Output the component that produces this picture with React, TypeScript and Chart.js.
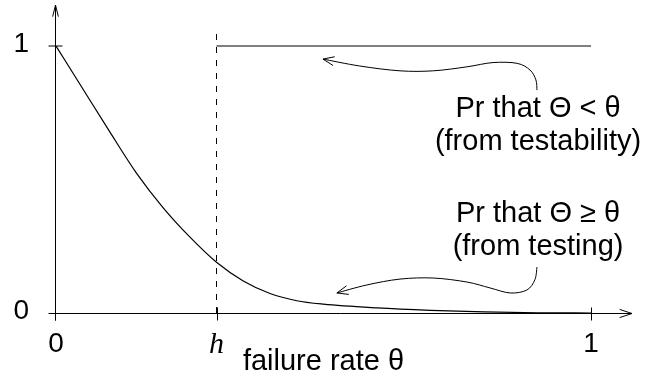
import React, { useEffect, useRef } from 'react';
import { Chart, registerables } from 'chart.js';

Chart.register(...registerables);

// ---------- data ----------
const H = 0.3;
const thetaValues = [0, 0.05, 0.1, 0.15, 0.2, 0.25, 0.3, 0.35, 0.4, 0.45, 0.5, 0.6, 0.7, 0.8, 0.9, 1];
const testingValues = [1, 0.84, 0.68, 0.525, 0.395, 0.285, 0.19, 0.12, 0.073, 0.046, 0.033, 0.019, 0.01, 0.004, 0.001, 0];
const testabilityTheta = [H, 1];
const testabilityValues = [1, 1];
const hLineTheta = [H, H];
const hLineValues = [0, 1.05];

const xTickValues = [0, H, 1];
const xTickLabels = ['0', 'h', '1'];
const yTickValues = [0, 1];
const yTickLabels = ['0', '1'];
const xAxisTitle = 'failure rate θ';

const testabilityLabel = ['Pr that Θ < θ', '(from testability)'];
const testingLabel = ['Pr that Θ ≥ θ', '(from testing)'];

// annotation arrows (data units), from label to tip
const testabilityArrowX = [0.899, 0.897, 0.886, 0.862, 0.817, 0.768, 0.705, 0.643, 0.568, 0.499];
const testabilityArrowY = [0.835, 0.873, 0.91, 0.935, 0.938, 0.922, 0.907, 0.907, 0.925, 0.951];
const testingArrowX = [0.899, 0.895, 0.88, 0.849, 0.811, 0.768, 0.705, 0.643, 0.581, 0.525];
const testingArrowY = [0.172, 0.124, 0.086, 0.075, 0.094, 0.116, 0.131, 0.127, 0.105, 0.075];

// label anchors (data units): centre x, baselines of the two lines
const testabilityLabelX = 0.901;
const testabilityLabelY = [0.734, 0.61];
const testingLabelX = 0.901;
const testingLabelY = [0.341, 0.217];

const SANS = '"Liberation Sans", Arial, Helvetica, sans-serif';
const SERIF = '"Liberation Serif", "Times New Roman", serif';

function smoothPath(ctx: CanvasRenderingContext2D, pts: number[][]) {
  ctx.moveTo(pts[0][0], pts[0][1]);
  for (let i = 0; i < pts.length - 1; i++) {
    const p0 = pts[i - 1] || pts[i];
    const p1 = pts[i];
    const p2 = pts[i + 1];
    const p3 = pts[i + 2] || p2;
    const c1x = p1[0] + (p2[0] - p0[0]) / 6;
    const c1y = p1[1] + (p2[1] - p0[1]) / 6;
    const c2x = p2[0] - (p3[0] - p1[0]) / 6;
    const c2y = p2[1] - (p3[1] - p1[1]) / 6;
    ctx.bezierCurveTo(c1x, c1y, c2x, c2y, p2[0], p2[1]);
  }
}

function openHead(ctx: CanvasRenderingContext2D, tip: number[], from: number[], len: number, halfAngle: number) {
  const ang = Math.atan2(tip[1] - from[1], tip[0] - from[0]);
  ctx.beginPath();
  ctx.moveTo(tip[0] - len * Math.cos(ang - halfAngle), tip[1] - len * Math.sin(ang - halfAngle));
  ctx.lineTo(tip[0], tip[1]);
  ctx.lineTo(tip[0] - len * Math.cos(ang + halfAngle), tip[1] - len * Math.sin(ang + halfAngle));
  ctx.stroke();
}

const decorPlugin = {
  id: 'decor',
  afterDatasetsDraw(chart: any) {
    const { ctx } = chart;
    const xs = chart.scales.x;
    const ys = chart.scales.y;
    const px = (v: number) => xs.getPixelForValue(v);
    const py = (v: number) => ys.getPixelForValue(v);
    ctx.save();
    ctx.strokeStyle = '#000';
    ctx.fillStyle = '#000';
    ctx.lineWidth = 1;

    const ax = Math.round(px(0)) - 0.5;
    const ay = Math.round(py(0)) + 0.5;
    const yTop = py(1) - 41;
    const xRight = px(1) + 41;

    // y axis
    ctx.beginPath();
    ctx.moveTo(ax, ay + 7);
    ctx.lineTo(ax, yTop);
    ctx.stroke();
    openHead(ctx, [ax, yTop], [ax, yTop + 20], 12, 0.24);
    // x axis
    ctx.beginPath();
    ctx.moveTo(ax - 7, ay);
    ctx.lineTo(xRight, ay);
    ctx.stroke();
    openHead(ctx, [xRight, ay], [xRight - 20, ay], 13, 0.32);

    // x ticks
    xTickValues.forEach((v) => {
      const tx = Math.round(px(v)) + (v === 0 ? -0.5 : 0.5);
      ctx.beginPath();
      ctx.moveTo(tx, ay - 6);
      ctx.lineTo(tx, ay + 7);
      ctx.stroke();
    });
    // y ticks
    yTickValues.forEach((v) => {
      if (v === 0) return;
      const ty = py(v);
      ctx.beginPath();
      ctx.moveTo(ax - 7, ty);
      ctx.lineTo(ax + 7, ty);
      ctx.stroke();
    });

    // arrows
    const drawArrow = (X: number[], Y: number[]) => {
      const pts = X.map((v, i) => [px(v), py(Y[i])]);
      ctx.beginPath();
      smoothPath(ctx, pts);
      ctx.stroke();
      openHead(ctx, pts[pts.length - 1], pts[pts.length - 2], 12, 0.38);
    };
    drawArrow(testabilityArrowX, testabilityArrowY);
    drawArrow(testingArrowX, testingArrowY);

    // labels
    ctx.font = `29px ${SANS}`;
    ctx.textAlign = 'center';
    ctx.textBaseline = 'alphabetic';
    testabilityLabel.forEach((t, i) => ctx.fillText(t, px(testabilityLabelX), py(testabilityLabelY[i])));
    testingLabel.forEach((t, i) => ctx.fillText(t, px(testingLabelX), py(testingLabelY[i])));

    ctx.restore();
  },
};

export default function App() {
  const ref = useRef<HTMLCanvasElement | null>(null);

  useEffect(() => {
    document.body.style.margin = '0';
    const canvas = ref.current;
    if (!canvas) return;
    const chart = new Chart(canvas, {
      type: 'scatter',
      data: {
        datasets: [
          {
            label: 'testing',
            data: thetaValues.map((t, i) => ({ x: t, y: testingValues[i] })),
            showLine: true,
            borderColor: '#000',
            borderWidth: 1.2,
            pointRadius: 0,
            cubicInterpolationMode: 'monotone',
          },
          {
            label: 'testability',
            data: testabilityTheta.map((t, i) => ({ x: t, y: testabilityValues[i] })),
            showLine: true,
            borderColor: '#000',
            borderWidth: 1,
            pointRadius: 0,
            clip: false,
          },
          {
            label: 'h',
            data: hLineTheta.map((t, i) => ({ x: t, y: hLineValues[i] })),
            showLine: true,
            borderColor: '#000',
            borderWidth: 1,
            borderDash: [6, 7],
            pointRadius: 0,
            clip: false,
          },
        ],
      } as any,
      options: {
        animation: false,
        responsive: false,
        maintainAspectRatio: false,
        layout: { padding: { left: 0, right: 63, top: 46, bottom: 0 } },
        plugins: { legend: { display: false }, tooltip: { enabled: false } },
        scales: {
          x: {
            type: 'linear',
            min: 0,
            max: 1,
            grid: { display: false, drawTicks: false },
            border: { display: false },
            afterBuildTicks: (s: any) => {
              s.ticks = xTickValues.map((v) => ({ value: v }));
            },
            afterFit: (s: any) => {
              s.height = 66;
            },
            ticks: {
              autoSkip: false,
              maxRotation: 0,
              padding: 14,
              color: '#000',
              callback: (_v: any, i: number) => xTickLabels[i],
              font: (c: any) =>
                c.index === 1
                  ? { family: SERIF, style: 'italic', size: 30 }
                  : { family: SANS, size: 28 },
            },
            title: {
              display: true,
              text: xAxisTitle,
              color: '#000',
              padding: { top: 0, bottom: 0 },
              font: { family: SANS, size: 29, lineHeight: 1.15 },
            },
          },
          y: {
            type: 'linear',
            min: 0,
            max: 1,
            grid: { display: false, drawTicks: false },
            border: { display: false },
            afterBuildTicks: (s: any) => {
              s.ticks = yTickValues.map((v) => ({ value: v }));
            },
            afterFit: (s: any) => {
              s.width = 56;
            },
            ticks: {
              autoSkip: false,
              padding: 27,
              labelOffset: -2,
              color: '#000',
              callback: (_v: any, i: number) => yTickLabels[i],
              font: { family: SANS, size: 28 },
            },
          },
        },
      } as any,
      plugins: [decorPlugin],
    });
    return () => chart.destroy();
  }, []);

  return (
    <div style={{ position: 'fixed', left: 0, top: 0, width: 654, height: 379, background: '#fff' }}>
      <canvas ref={ref} width={654} height={379} style={{ width: 654, height: 379, display: 'block' }} />
    </div>
  );
}
